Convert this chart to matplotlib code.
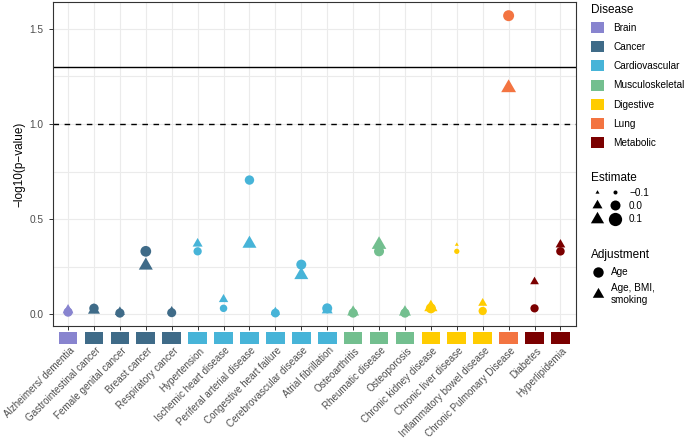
import matplotlib as mpl
import matplotlib.pyplot as plt
import matplotlib.transforms as mtransforms
import numpy as np
from matplotlib.patches import Patch, Rectangle
from matplotlib.lines import Line2D
from matplotlib.legend_handler import HandlerTuple

mpl.rcParams["font.family"] = ["Liberation Sans", "DejaVu Sans"]

diseases = ["Alzheimers/ dementia", "Gastrointestinal cancer", "Female genital cancer",
            "Breast cancer", "Respiratory cancer", "Hypertension", "Ischemic heart disease",
            "Periferal arterial disease", "Congestive heart failure", "Cerebrovascular disease",
            "Atrial fibrillation", "Osteoarthritis", "Rheumatic disease", "Osteoporosis",
            "Chronic kidney disease", "Chronic liver disease", "Inflammatory bowel disease",
            "Chronic Pulmonary Disease", "Diabetes", "Hyperlipidemia"]
groups = ["Brain", "Cancer", "Cancer", "Cancer", "Cancer",
          "Cardiovascular", "Cardiovascular", "Cardiovascular", "Cardiovascular",
          "Cardiovascular", "Cardiovascular",
          "Musculoskeletal", "Musculoskeletal", "Musculoskeletal",
          "Digestive", "Digestive", "Digestive", "Lung", "Metabolic", "Metabolic"]
group_names = ["Brain", "Cancer", "Cardiovascular", "Musculoskeletal", "Digestive", "Lung", "Metabolic"]
group_colors = ["#8884CF", "#3F6B88", "#47B4D8", "#73BF8F", "#FFCC00", "#F37441", "#7B0000"]

# -log10(p) for the two adjustments
p_age = [0.01, 0.03, 0.005, 0.33, 0.007, 0.33, 0.03, 0.705, 0.005, 0.26,
         0.03, 0.005, 0.33, 0.005, 0.03, 0.33, 0.016, 1.57, 0.03, 0.33]
p_adj = [0.02, 0.02, 0.01, 0.255, 0.015, 0.37, 0.077, 0.37, 0.01, 0.205,
         0.02, 0.01, 0.365, 0.01, 0.035, 0.365, 0.057, 1.19, 0.17, 0.365]
# estimates (mapped to marker size)
est_age = [-0.02, -0.015, -0.02, 0.02, -0.024, -0.04, -0.055, -0.015, -0.03, 0.0,
           0.0, -0.02, 0.0, -0.02, 0.0, -0.088, -0.04, 0.027, -0.04, -0.035]
est_adj = [0.02, 0.057, 0.0, 0.127, -0.024, 0.0, -0.015, 0.127, -0.015, 0.127,
           0.027, 0.05, 0.15, 0.057, 0.1, -0.1, -0.024, 0.165, -0.03, -0.008]

legend_est = [-0.1, 0.0, 0.1]

tri = [(-1, -0.577), (1, -0.577), (0, 1.155)]


def size_pt(est):
    t = np.clip((np.asarray(est, dtype=float) + 0.11) / 0.27, 0, 1)
    return (1.45 + 13.4 * np.sqrt(t)) * 0.72


color_of = dict(zip(group_names, group_colors))
cols = [color_of[g] for g in groups]
x = np.arange(len(diseases))

fig = plt.figure(figsize=(6.85, 4.4), dpi=100)
ax = fig.add_axes([52.5 / 685, 1 - 326 / 440, (576 - 52.5) / 685, 324 / 440])

ax.scatter(x, p_age, s=size_pt(est_age) ** 2, c=cols, marker="o", linewidths=0, zorder=3)
ax.scatter(x, p_adj, s=(size_pt(est_adj) / 0.866) ** 2, c=cols, marker=tri, linewidths=0, zorder=3)

ax.axhline(-np.log10(0.05), color="black", lw=1.0, zorder=2)
ax.axhline(1.0, color="black", lw=1.0, ls=(0, (4, 4)), zorder=2)

ax.set_xlim(-0.6, len(diseases) - 0.4)
ax.set_ylim(-0.063, 1.642)
ax.set_yticks([0.0, 0.5, 1.0, 1.5])
ax.set_yticks([0.25, 0.75, 1.25], minor=True)
ax.set_yticklabels(["0.0", "0.5", "1.0", "1.5"])
ax.set_xticks(x)
ax.set_xticklabels(diseases, rotation=45, ha="right", va="top", rotation_mode="anchor")
ax.grid(True, which="both", color="#EBEBEB", lw=0.8, zorder=0)
ax.set_axisbelow(True)
ax.tick_params(axis="y", which="minor", length=0)
ax.tick_params(axis="both", which="major", length=3, width=0.7, color="#333333",
               labelsize=7.3, labelcolor="#4D4D4D")
ax.tick_params(axis="x", pad=11, labelsize=7.1)
for spine in ax.spines.values():
    spine.set_color("#333333")
    spine.set_linewidth(0.8)

shift = mtransforms.ScaledTranslation(1 / 72, 0, fig.dpi_scale_trans)
for lab in ax.get_xticklabels():
    lab.set_transform(lab.get_transform() + shift)

ax.set_ylabel("\u2212log10(p\u2212value)", fontsize=8.5, labelpad=3)

# coloured strip under the x axis
blend = mtransforms.blended_transform_factory(ax.transData, ax.transAxes)
for i, c in enumerate(cols):
    ax.add_patch(Rectangle((i - 0.36, -0.0556), 0.72, 0.037, transform=blend,
                           facecolor=c, edgecolor="none", clip_on=False))

# legends
leg_kw = dict(loc="upper left", frameon=False, fontsize=7.2, title_fontsize=8.5,
              borderpad=0, borderaxespad=0, alignment="left")

h1 = [Patch(facecolor=c, edgecolor="none") for c in group_colors]
leg1 = fig.legend(h1, group_names, title="Disease", bbox_to_anchor=(591 / 685, 1 - 4 / 440),
                  handlelength=1.3, handleheight=1.3, labelspacing=0.6,
                  handletextpad=0.9, **leg_kw)
# ggplot-like row spacing
leg1._legend_handle_box.get_children()[0].sep = 6

h2 = []
for e in legend_est:
    s = float(size_pt(e))
    t = Line2D([], [], ls="none", marker=tri, markersize=s / 0.866, color="black", markeredgewidth=0)
    o = Line2D([], [], ls="none", marker="o", markersize=s, color="black", markeredgewidth=0)
    h2.append((t, o))
leg2 = fig.legend(h2, ["\u22120.1", "0.0", "0.1"], title="Estimate",
                  bbox_to_anchor=(591 / 685, 1 - 172 / 440),
                  handler_map={tuple: HandlerTuple(ndivide=None, pad=0.6)},
                  handlelength=3.0, labelspacing=0.35, handletextpad=0.8, **leg_kw)

s0 = float(size_pt(0.01))
h3 = [Line2D([], [], ls="none", marker="o", markersize=s0, color="black", markeredgewidth=0),
      Line2D([], [], ls="none", marker=tri, markersize=s0 / 0.866 * 1.1, color="black", markeredgewidth=0)]
leg3 = fig.legend(h3, ["Age", "Age, BMI,\nsmoking"], title="Adjustment",
                  bbox_to_anchor=(591 / 685, 1 - 249 / 440),
                  handlelength=1.4, labelspacing=0.6, handletextpad=0.6, **leg_kw)

plt.savefig("out.png", dpi=100)
